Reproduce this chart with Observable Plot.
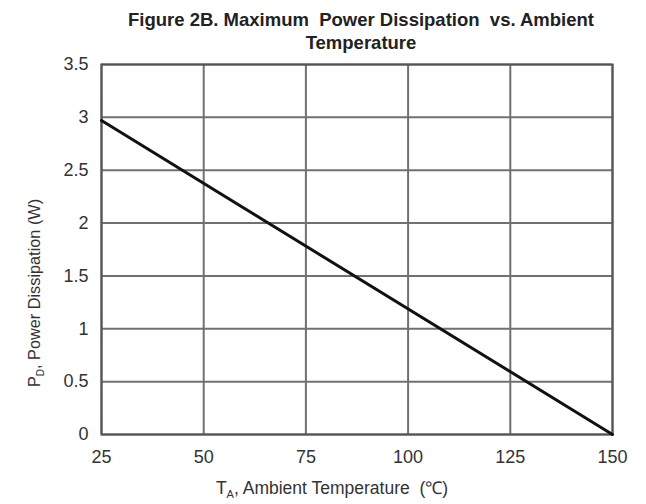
<!DOCTYPE html>
<html>
<head>
<meta charset="utf-8">
<script src="https://cdn.jsdelivr.net/npm/d3@7"></script>
<script src="https://cdn.jsdelivr.net/npm/@observablehq/plot@0.6"></script>
<style>
  html, body { margin: 0; padding: 0; background: #fff; }
  #title {
    width: 646px; box-sizing: border-box; padding: 8px 0 0 76px; height: 44px;
    overflow: visible; position: relative; z-index: 1;
    text-align: center; font-family: "Liberation Sans", Arial, sans-serif;
    font-weight: bold; font-size: 18.5px; line-height: 23px; color: #222;
  }
  #chart svg { display: block; }
</style>
</head>
<body>
<div id="title">Figure 2B. Maximum&nbsp; Power Dissipation&nbsp; vs. Ambient<br>Temperature</div>
<div id="chart"></div>
<script>
const temperature = [25, 150];
const powerW = [2.97, 0];
const xTicks = [25, 50, 75, 100, 125, 150];
const yTicks = [0, 0.5, 1, 1.5, 2, 2.5, 3, 3.5];

const data = temperature.map((t, i) => ({t, p: powerW[i]}));

const plot = Plot.plot({
  width: 646,
  height: 460,
  marginTop: 20,
  marginBottom: 70,
  marginLeft: 101,
  marginRight: 34,
  style: {fontFamily: "'Liberation Sans', Arial, sans-serif", fontSize: "18px", color: "#333", background: "transparent"},
  x: {domain: [25, 150], label: null},
  y: {domain: [0, 3.5], label: null},
  marks: [
    Plot.gridX(xTicks, {stroke: "#707070", strokeWidth: 2, strokeOpacity: 1}),
    Plot.gridY(yTicks, {stroke: "#707070", strokeWidth: 2, strokeOpacity: 1}),
    Plot.frame({stroke: "#555", strokeWidth: 2}),
    Plot.line(data, {x: "t", y: "p", stroke: "#111", strokeWidth: 3}),
    Plot.axisX({ticks: xTicks, tickSize: 0, tickPadding: 16, label: null, fill: "#333", tickFormat: d => String(d)}),
    Plot.axisY({ticks: yTicks, tickSize: 0, tickPadding: 13, label: null, fill: "#333", tickFormat: d => String(d)})
  ]
});
document.getElementById("chart").appendChild(plot);

const svg = d3.select(plot);
// x axis title with subscript
const xt = svg.append("text")
  .attr("x", 332).attr("y", 450)
  .attr("text-anchor", "middle")
  .attr("fill", "#333")
  .style("font-size", "17.5px");
xt.append("tspan").text("T");
xt.append("tspan").attr("font-size", "11px").attr("dy", 4).text("A");
xt.append("tspan").attr("dy", -4).text(", Ambient Temperature  (℃)");

// y axis title with subscript
const yt = svg.append("text")
  .attr("transform", "translate(40,249) rotate(-90)")
  .attr("text-anchor", "middle")
  .attr("fill", "#333")
  .style("font-size", "16.3px");
yt.append("tspan").text("P");
yt.append("tspan").attr("font-size", "10px").attr("dy", 4).text("D");
yt.append("tspan").attr("dy", -4).text(", Power Dissipation (W)");
</script>
</body>
</html>
